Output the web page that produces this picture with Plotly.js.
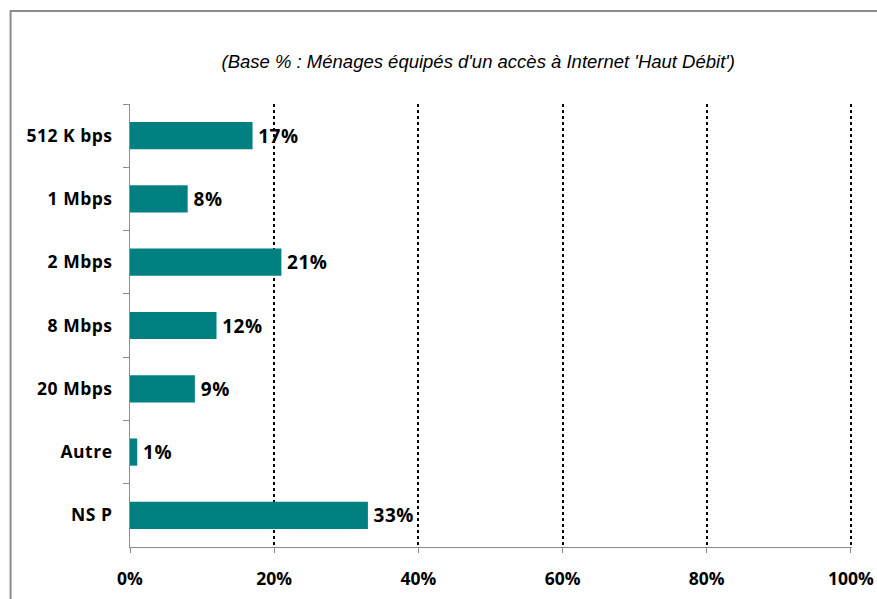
<!DOCTYPE html>
<html>
<head>
<meta charset="utf-8">
<script src="https://cdn.plot.ly/plotly-3.0.1.min.js"></script>
<style>
html,body{margin:0;padding:0;background:#fff;}
#chart{width:877px;height:599px;}
#chart g.ytick text{letter-spacing:0.5px;}
#chart text.bartext{letter-spacing:0.5px;}
</style>
</head>
<body>
<div id="chart"></div>
<script>
const categories = ["512 K bps", "1 Mbps", "2 Mbps", "8 Mbps", "20 Mbps", "Autre", "NS P"];
const values = [17, 8, 21, 12, 9, 1, 33];
const xTickVals = [0, 20, 40, 60, 80, 100];
const xTickText = ["0%", "20%", "40%", "60%", "80%", "100%"];
const titleText = "(Base % : Ménages équipés d'un accès à Internet 'Haut Débit')";

const W = 877, H = 599;
const L = 129.5, R = 25, T = 104, B = 52;
const pw = W - L - R, ph = H - T - B;
const px = v => (v - L) / pw;
const py = v => (H - B - v) / ph;
const FONT = '"Open Sans", Lato, sans-serif';

const trace = {
  type: 'bar',
  orientation: 'h',
  y: categories,
  x: values,
  marker: {color: '#008080'},
  text: values.map(v => '\u2009' + v + '%'),
  textposition: 'outside',
  textfont: {family: FONT, size: 19, color: '#000', weight: 'bold'},
  cliponaxis: false,
  hoverinfo: 'none'
};

const layout = {
  width: W, height: H,
  margin: {l: L, r: R, t: T, b: B},
  paper_bgcolor: '#fff', plot_bgcolor: '#fff',
  showlegend: false,
  bargap: 0.57,
  title: {
    text: '<i>' + titleText + '</i>',
    font: {family: '"Liberation Sans", Arial, sans-serif', size: 18.5, color: '#000'},
    x: px(478), xref: 'paper', xanchor: 'center',
    y: 1 - 62 / H, yref: 'container', yanchor: 'middle'
  },
  xaxis: {
    range: [0, 100.15],
    tickvals: xTickVals, ticktext: xTickText,
    showgrid: true, gridcolor: '#000', gridwidth: 2, griddash: 'dot',
    zeroline: false,
    showline: true, linecolor: '#8c8c8c', linewidth: 1,
    ticks: 'outside', ticklen: 5, tickcolor: '#8c8c8c',
    tickfont: {family: FONT, size: 17.5, color: '#000', weight: 'bold'},
    ticklabelstandoff: 11,
    fixedrange: true
  },
  yaxis: {
    type: 'category',
    autorange: 'reversed',
    showgrid: false, zeroline: false,
    showline: true, linecolor: '#8c8c8c', linewidth: 1,
    ticks: 'outside', ticklen: 6, tickcolor: '#8c8c8c',
    tickson: 'boundaries',
    tickfont: {family: FONT, size: 17.5, color: '#000', weight: 'bold'},
    ticklabelstandoff: 13,
    fixedrange: true
  },
  shapes: [{
    type: 'rect', xref: 'paper', yref: 'paper',
    x0: px(10), x1: px(W + 20), y0: py(H + 20), y1: py(11),
    line: {color: '#8c8c8c', width: 2}, fillcolor: 'rgba(0,0,0,0)', layer: 'below'
  }]
};

Plotly.newPlot('chart', [trace], layout, {displayModeBar: false, staticPlot: true});
</script>
</body>
</html>
